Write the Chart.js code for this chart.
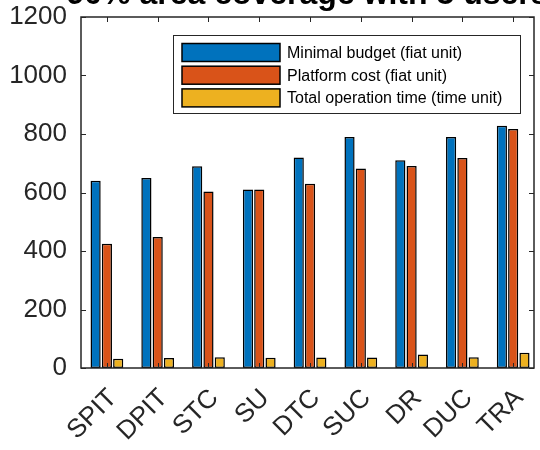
<!DOCTYPE html>
<html>
<head>
<meta charset="utf-8">
<script src="https://cdn.jsdelivr.net/npm/chart.js@4.4.1/dist/chart.umd.min.js"></script>
<style>
  body { margin: 0; background: #ffffff; }
  #wrap { width: 540px; height: 450px; }
</style>
</head>
<body>
<div id="wrap"><canvas id="barCanvas" width="540" height="450"></canvas></div>
<script>
// values
const categories = ['SPIT', 'DPIT', 'STC', 'SU', 'DTC', 'SUC', 'DR', 'DUC', 'TRA'];
const minimalBudget = [640, 650, 690, 610, 720, 790, 710, 790, 828];
const platformCost = [425, 448, 603, 610, 630, 682, 691, 718, 817];
const operationTime = [32, 34, 37, 35, 36, 36, 46, 37, 52];
const yTicks = [0, 200, 400, 600, 800, 1000, 1200];
const seriesLabels = ['Minimal budget (fiat unit)', 'Platform cost (fiat unit)', 'Total operation time (time unit)'];
const titleText = '90% area coverage with 5 users';

const FONT = '"Liberation Sans", Arial, Helvetica, sans-serif';
const AXIS_COLOR = '#262626';

function toPoints(values) {
    return values.map((v, i) => ({ x: i + 1, y: v }));
}

// MATLAB style box with inward ticks on all four sides
const boxPlugin = {
    id: 'matlabBox',
    afterDatasetsDraw(chart) {
        const { ctx, chartArea: a, scales } = chart;
        ctx.save();
        ctx.strokeStyle = AXIS_COLOR;
        ctx.lineWidth = 1.5;
        ctx.strokeRect(a.left, a.top, a.right - a.left, a.bottom - a.top);
        ctx.lineWidth = 1;
        ctx.beginPath();
        const tl = 5;
        categories.forEach((c, i) => {
            const x = Math.round(scales.x.getPixelForValue(i + 1)) + 0.5;
            ctx.moveTo(x, a.bottom); ctx.lineTo(x, a.bottom - tl);
            ctx.moveTo(x, a.top); ctx.lineTo(x, a.top + tl);
        });
        yTicks.forEach(t => {
            const y = Math.round(scales.y.getPixelForValue(t)) + 0.5;
            ctx.moveTo(a.left, y); ctx.lineTo(a.left + tl, y);
            ctx.moveTo(a.right, y); ctx.lineTo(a.right - tl, y);
        });
        ctx.stroke();
        ctx.restore();
    }
};

// legend box drawn in the upper right of the plot, from the datasets
const legendPlugin = {
    id: 'boxLegend',
    afterDraw(chart) {
        const { ctx } = chart;
        const x0 = 173, y0 = 35, w = 347, h = 78;
        ctx.save();
        ctx.fillStyle = '#ffffff';
        ctx.fillRect(x0, y0, w, h);
        ctx.strokeStyle = AXIS_COLOR;
        ctx.lineWidth = 1;
        ctx.strokeRect(x0 + 0.5, y0 + 0.5, w, h);
        ctx.font = '16px ' + FONT;
        ctx.textBaseline = 'middle';
        ctx.textAlign = 'left';
        chart.data.datasets.forEach((ds, i) => {
            const cy = y0 + 17.5 + i * 22.7;
            ctx.fillStyle = ds.backgroundColor;
            ctx.fillRect(182, cy - 9, 98, 18);
            ctx.strokeStyle = '#000000';
            ctx.lineWidth = 1.5;
            ctx.strokeRect(182, cy - 9, 98, 18);
            ctx.fillStyle = '#000000';
            ctx.fillText(ds.label, 287, cy + 1);
        });
        ctx.restore();
    }
};

// bold title, cut off at the top edge as in the reference
const titlePlugin = {
    id: 'clippedTitle',
    afterDraw(chart) {
        const { ctx, chartArea: a } = chart;
        ctx.save();
        ctx.font = 'bold 32px ' + FONT;
        ctx.fillStyle = '#000000';
        ctx.textAlign = 'center';
        ctx.textBaseline = 'alphabetic';
        ctx.fillText(titleText, (a.left + a.right) / 2, 4);
        ctx.restore();
    }
};

const seriesColors = ['#0072BD', '#D95319', '#EDB120'];
const seriesValues = [minimalBudget, platformCost, operationTime];

const chartConfig = {
    type: 'bar',
    data: {
        datasets: seriesValues.map((vals, i) => ({
            label: seriesLabels[i],
            data: toPoints(vals),
            backgroundColor: seriesColors[i],
            borderColor: '#000000',
            borderWidth: 1.5,
            borderSkipped: false,
            categoryPercentage: 0.667,
            barPercentage: 0.9
        }))
    },
    options: {
        responsive: false,
        animation: false,
        devicePixelRatio: 1,
        layout: {
            padding: { top: 17, right: 6, left: 0, bottom: 0 }
        },
        plugins: {
            legend: { display: false },
            title: { display: false },
            tooltip: { enabled: false }
        },
        scales: {
            x: {
                type: 'linear',
                min: 0.49,
                max: 9.41,
                offset: false,
                grid: { display: false, drawTicks: false, tickLength: 0 },
                border: { display: false },
                afterBuildTicks: scale => {
                    scale.ticks = categories.map((c, i) => ({ value: i + 1 }));
                },
                afterFit: scale => {
                    scale.height = 82;
                    scale.paddingLeft = 0;
                    scale.paddingRight = 0;
                },
                ticks: {
                    autoSkip: false,
                    maxRotation: 45,
                    minRotation: 45,
                    padding: 15,
                    labelOffset: 6,
                    color: AXIS_COLOR,
                    font: { family: FONT, size: 26 },
                    callback: value => categories[Math.round(value) - 1] || ''
                }
            },
            y: {
                min: 0,
                max: 1200,
                grid: { display: false, drawTicks: false, tickLength: 0 },
                border: { display: false },
                afterBuildTicks: scale => {
                    scale.ticks = yTicks.map(v => ({ value: v }));
                },
                afterFit: scale => {
                    scale.width = 81;
                    scale.paddingTop = 0;
                    scale.paddingBottom = 0;
                },
                ticks: {
                    padding: 14,
                    color: AXIS_COLOR,
                    font: { family: FONT, size: 26 },
                    callback: value => String(value)
                }
            }
        }
    },
    plugins: [boxPlugin, legendPlugin, titlePlugin]
};

const ctx = document.getElementById('barCanvas').getContext('2d');
new Chart(ctx, chartConfig);
</script>
</body>
</html>
